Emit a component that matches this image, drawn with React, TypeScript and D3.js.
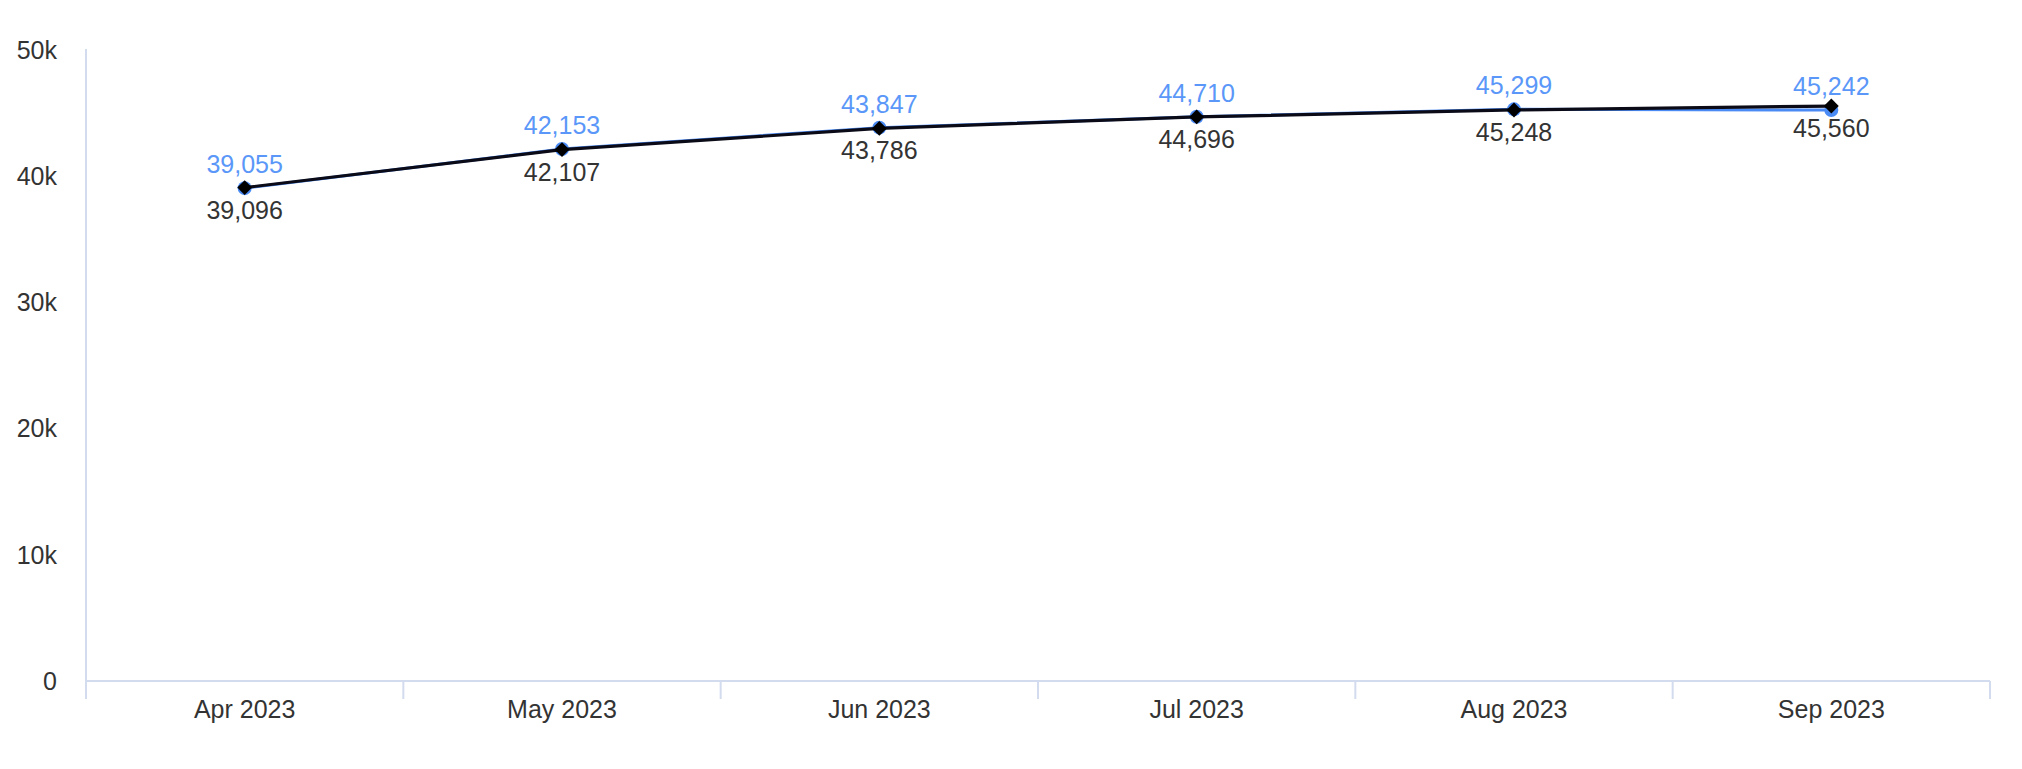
import React from "react";
import * as d3 from "d3";

const months = ["Apr 2023", "May 2023", "Jun 2023", "Jul 2023", "Aug 2023", "Sep 2023"];
const blueSeries = [39055, 42153, 43847, 44710, 45299, 45242];
const blackSeries = [39096, 42107, 43786, 44696, 45248, 45560];
const yTicks = [0, 10000, 20000, 30000, 40000, 50000];

const W = 2022;
const H = 769;
const left = 86;
const right = 1990;
const top = 50;
const bottom = 681;
const FONT = "Liberation Sans, Arial, sans-serif";

export default function App() {
  const x = d3.scaleBand<string>().domain(months).range([left, right]).padding(0);
  const y = d3.scaleLinear().domain([0, 50000]).range([bottom, top]);
  const cx = (m: string) => (x(m) as number) + x.bandwidth() / 2;
  const fmt = d3.format(",");
  const tickFmt = (v: number) => (v === 0 ? "0" : `${v / 1000}k`);

  const line = d3
    .line<number>()
    .x((_, i) => cx(months[i]))
    .y((d) => y(d));

  const boundaries = [...months.map((m) => x(m) as number), right];
  const diamond = d3.symbol().type(d3.symbolDiamond2).size(140)();

  return (
    <svg
      width={W}
      height={H}
      style={{ position: "absolute", left: 0, top: 0, background: "#fff" }}
      fontFamily={FONT}
    >
      {/* axes */}
      <line x1={left} x2={left} y1={top - 1} y2={bottom + 18} stroke="#d3dbee" strokeWidth={2} />
      <line x1={left} x2={right} y1={bottom} y2={bottom} stroke="#d3dbee" strokeWidth={2} />
      {boundaries.map((b, i) => (
        <line key={i} x1={b} x2={b} y1={bottom} y2={bottom + 18} stroke="#d3dbee" strokeWidth={2} />
      ))}
      {yTicks.map((t) => (
        <text key={t} x={57} y={y(t)} dy="0.35em" textAnchor="end" fontSize={25} fill="#333">
          {tickFmt(t)}
        </text>
      ))}
      {months.map((m) => (
        <text key={m} x={cx(m)} y={718} textAnchor="middle" fontSize={25} fill="#333">
          {m}
        </text>
      ))}

      {/* blue series */}
      <path d={line(blueSeries) as string} fill="none" stroke="#4a8af4" strokeWidth={3} />
      {blueSeries.map((v, i) => (
        <circle key={i} cx={cx(months[i])} cy={y(v)} r={7} fill="#4a8af4" />
      ))}

      {/* black series */}
      <path d={line(blackSeries) as string} fill="none" stroke="#0b0b18" strokeWidth={3.2} />
      {blackSeries.map((v, i) => (
        <path key={i} d={diamond as string} transform={`translate(${cx(months[i])},${y(v)})`} fill="#000" />
      ))}

      {/* labels */}
      {blueSeries.map((v, i) => (
        <text key={i} x={cx(months[i])} y={y(v) - 15} textAnchor="middle" fontSize={25} fill="#5a97f8">
          {fmt(v)}
        </text>
      ))}
      {blackSeries.map((v, i) => (
        <text key={i} x={cx(months[i])} y={y(v) + 31} textAnchor="middle" fontSize={25} fill="#333">
          {fmt(v)}
        </text>
      ))}
    </svg>
  );
}
